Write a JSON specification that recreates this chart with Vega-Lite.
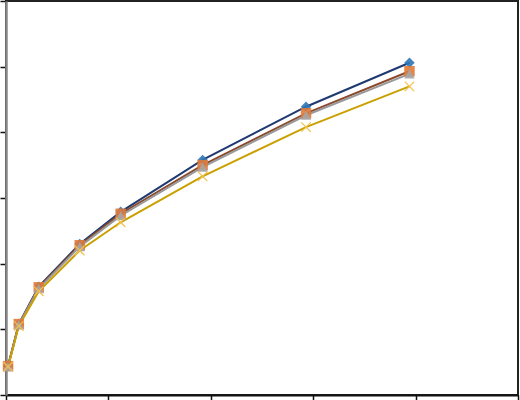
{
  "$schema": "https://vega.github.io/schema/vega-lite/v6.json",
  "width": 512,
  "height": 394,
  "autosize": {"type": "none"},
  "padding": {"left": 6, "top": 1, "right": 2, "bottom": 5},
  "background": "white",
  "config": {"view": {"stroke": "#222", "strokeWidth": 2}},
  "data": {"values": [
    {"s": "A", "x": 0.02, "y": 0.44}, {"s": "A", "x": 0.125, "y": 1.08}, {"s": "A", "x": 0.32, "y": 1.65}, {"s": "A", "x": 0.72, "y": 2.30}, {"s": "A", "x": 1.12, "y": 2.79}, {"s": "A", "x": 1.92, "y": 3.58}, {"s": "A", "x": 2.93, "y": 4.39}, {"s": "A", "x": 3.94, "y": 5.06},
    {"s": "B", "x": 0.02, "y": 0.44}, {"s": "B", "x": 0.125, "y": 1.08}, {"s": "B", "x": 0.32, "y": 1.64}, {"s": "B", "x": 0.72, "y": 2.28}, {"s": "B", "x": 1.12, "y": 2.76}, {"s": "B", "x": 1.92, "y": 3.50}, {"s": "B", "x": 2.93, "y": 4.29}, {"s": "B", "x": 3.94, "y": 4.93},
    {"s": "C", "x": 0.02, "y": 0.43}, {"s": "C", "x": 0.125, "y": 1.07}, {"s": "C", "x": 0.32, "y": 1.62}, {"s": "C", "x": 0.72, "y": 2.26}, {"s": "C", "x": 1.12, "y": 2.73}, {"s": "C", "x": 1.92, "y": 3.47}, {"s": "C", "x": 2.93, "y": 4.26}, {"s": "C", "x": 3.94, "y": 4.89},
    {"s": "D", "x": 0.02, "y": 0.43}, {"s": "D", "x": 0.125, "y": 1.05}, {"s": "D", "x": 0.32, "y": 1.58}, {"s": "D", "x": 0.72, "y": 2.20}, {"s": "D", "x": 1.12, "y": 2.63}, {"s": "D", "x": 1.92, "y": 3.33}, {"s": "D", "x": 2.93, "y": 4.08}, {"s": "D", "x": 3.94, "y": 4.70}
  ]},
  "encoding": {
    "x": {"field": "x", "type": "quantitative", "scale": {"domain": [0, 5], "nice": false},
      "axis": {"values": [0, 1, 2, 3, 4, 5], "labels": false, "title": null, "grid": false, "domainColor": "#111", "domainWidth": 2, "tickColor": "#111", "tickSize": 5, "tickWidth": 1.5}},
    "y": {"field": "y", "type": "quantitative", "scale": {"domain": [0, 6], "nice": false},
      "axis": {"values": [0, 1, 2, 3, 4, 5, 6], "labels": false, "title": null, "grid": false, "domainColor": "#888", "domainWidth": 2.5, "tickColor": "#111", "tickSize": 6, "tickWidth": 1.5}}
  },
  "layer": [
    {"mark": {"type": "line", "strokeWidth": 2},
     "encoding": {"stroke": {"field": "s", "type": "nominal", "legend": null,
       "scale": {"domain": ["A", "B", "C", "D"], "range": ["#1F3A70", "#8B4A2B", "#999999", "#C9A000"]}}}},
    {"transform": [{"filter": "datum.s != 'D'"}],
     "mark": {"type": "point", "filled": true, "size": 110, "opacity": 0.9},
     "encoding": {
       "fill": {"field": "s", "type": "nominal", "legend": null,
         "scale": {"domain": ["A", "B", "C"], "range": ["#2E75B6", "#E07A3A", "#A5A5A5"]}},
       "shape": {"field": "s", "type": "nominal", "legend": null,
         "scale": {"domain": ["A", "B", "C"], "range": ["diamond", "square", "triangle-up"]}}}},
    {"transform": [{"filter": "datum.s == 'D'"}],
     "mark": {"type": "point", "shape": "M-1,-1L1,1M1,-1L-1,1", "filled": false, "size": 90, "stroke": "#F2C04A", "strokeWidth": 1.2, "opacity": 1}}
  ]
}
